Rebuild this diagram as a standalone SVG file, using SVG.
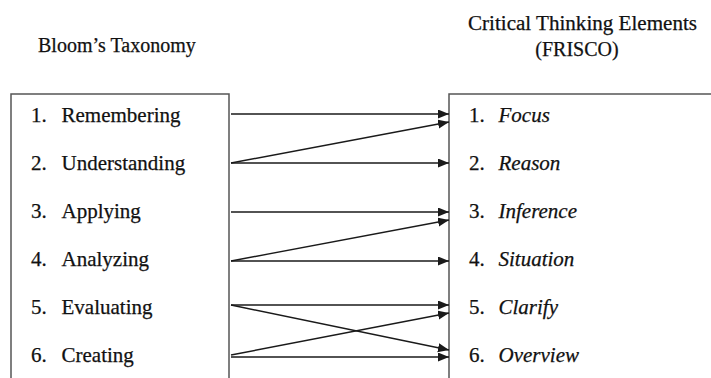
<svg xmlns="http://www.w3.org/2000/svg" width="711" height="378" viewBox="0 0 711 378">
  <style>
    text { font-family: 'Liberation Serif', 'Times New Roman', Times, 'DejaVu Serif', serif; fill: #111111; stroke: #111111; stroke-width: 0.25; }
    .head { font-size: 20px; }
    .item { font-size: 21px; }
    .it { font-style: italic; }
    .box { fill: #ffffff; stroke: #555555; stroke-width: 1.5; }
    .link { stroke: #1a1a1a; stroke-width: 1.4; fill: none; marker-end: url(#tip); }
  </style>
  <defs>
    <marker id="tip" markerUnits="userSpaceOnUse" markerWidth="12" markerHeight="10" refX="11" refY="4.5" orient="auto">
      <path d="M0,0 L11,4.5 L0,9 z" fill="#1a1a1a"/>
    </marker>
  </defs>
  <rect width="711" height="378" fill="#ffffff"/>

  <!-- column headings -->
  <text class="head" x="38" y="52">Bloom’s Taxonomy</text>
  <text class="head" x="468" y="30" font-size="19" textLength="229" lengthAdjust="spacingAndGlyphs">Critical Thinking Elements</text>
  <text class="head" x="577" y="56" text-anchor="middle" font-size="19">(FRISCO)</text>

  <!-- Bloom's taxonomy levels -->
  <g id="bloom">
    <rect class="box" x="11" y="94" width="218" height="300"/>
    <g class="item">
      <text x="31" y="122">1.</text><text x="61.5" y="122">Remembering</text>
      <text x="31" y="170">2.</text><text x="61.5" y="170">Understanding</text>
      <text x="31" y="218">3.</text><text x="61.5" y="218">Applying</text>
      <text x="31" y="266">4.</text><text x="61.5" y="266">Analyzing</text>
      <text x="31" y="314">5.</text><text x="61.5" y="314">Evaluating</text>
      <text x="31" y="362">6.</text><text x="61.5" y="362">Creating</text>
    </g>
  </g>

  <!-- FRISCO elements -->
  <g id="frisco">
    <rect class="box" x="449" y="94" width="280" height="300"/>
    <g class="item">
      <text x="469" y="122">1.</text><text class="it" x="498.5" y="122">Focus</text>
      <text x="469" y="170">2.</text><text class="it" x="498.5" y="170">Reason</text>
      <text x="469" y="218">3.</text><text class="it" x="498.5" y="218">Inference</text>
      <text x="469" y="266">4.</text><text class="it" x="498.5" y="266">Situation</text>
      <text x="469" y="314">5.</text><text class="it" x="498.5" y="314">Clarify</text>
      <text x="469" y="362">6.</text><text class="it" x="498.5" y="362">Overview</text>
    </g>
  </g>

  <!-- mappings from Bloom's levels to FRISCO elements -->
  <g id="connectors">
    <line class="link" x1="231" y1="114" x2="449" y2="114"/>
    <line class="link" x1="231" y1="163" x2="449" y2="122"/>
    <line class="link" x1="231" y1="163" x2="449" y2="163"/>
    <line class="link" x1="231" y1="212" x2="449" y2="212"/>
    <line class="link" x1="231" y1="261" x2="449" y2="220"/>
    <line class="link" x1="231" y1="261" x2="449" y2="261"/>
    <line class="link" x1="231" y1="305" x2="449" y2="305"/>
    <line class="link" x1="231" y1="305" x2="449" y2="350"/>
    <line class="link" x1="231" y1="355" x2="449" y2="313"/>
    <line class="link" x1="231" y1="357" x2="449" y2="357"/>
  </g>
</svg>
